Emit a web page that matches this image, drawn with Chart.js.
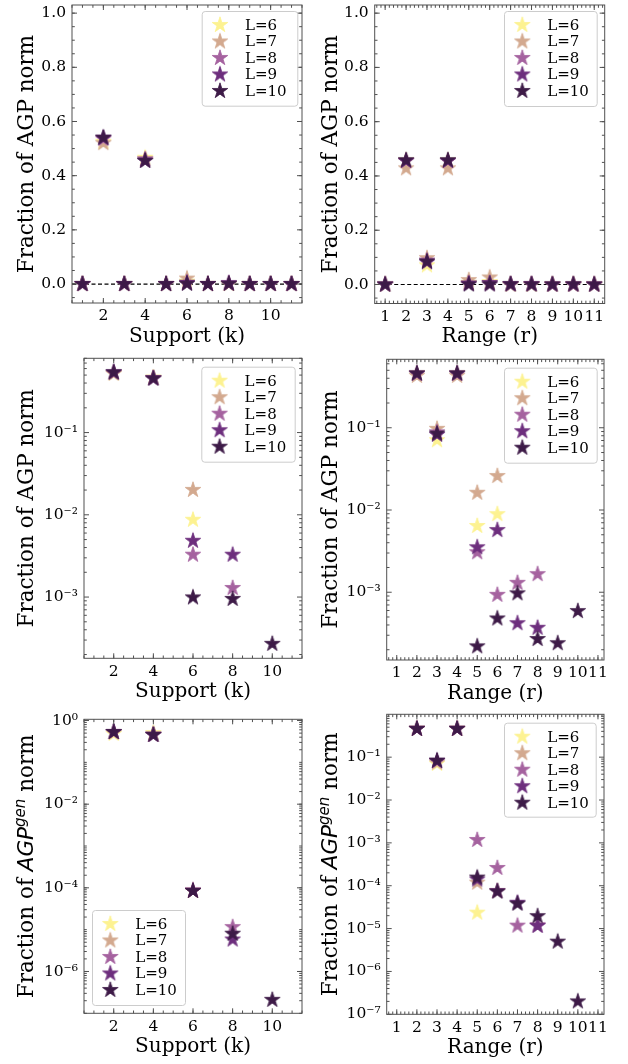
<!DOCTYPE html>
<html>
<head>
<meta charset="utf-8">
<script src="https://cdn.jsdelivr.net/npm/chart.js@4.4.1/dist/chart.umd.min.js"></script>
<style>
  html, body { margin: 0; padding: 0; background: #fff; }
  #wrap { position: relative; width: 628px; height: 1064px; overflow: hidden; }
  #wrap canvas { position: absolute; }
</style>
</head>
<body>
<div id="wrap"></div>
<script>
// Fracción de la norma AGP (y AGP^gen) por soporte k y por rango r, para L=6..10.
// Valores leídos a ojo de la figura; los ceros se omiten en los paneles logarítmicos.

const L_LABELS = ['L=6', 'L=7', 'L=8', 'L=9', 'L=10'];
const L_COLORS = ['#fdf291', '#d3a98f', '#a5629f', '#6d2e7d', '#3d1a47'];

const SUPPORT_K = [1, 2, 3, 4, 5, 6, 7, 8, 9, 10, 11];
const RANGE_R   = [1, 2, 3, 4, 5, 6, 7, 8, 9, 10, 11];

// AGP norm vs support k
const agpSupL6  = [0, 0.525, 0, 0.466, 0, 0.0087, 0, 0, 0, 0, 0];
const agpSupL7  = [0, 0.520, 0, 0.460, 0, 0.0201, 0, 0, 0, 0, 0];
const agpSupL8  = [0, 0.535, 0, 0.460, 0, 0.00327, 0, 0.00129, 0, 0, 0];
const agpSupL9  = [0, 0.540, 0, 0.455, 0, 0.00483, 0, 0.00327, 0, 0, 0];
const agpSupL10 = [0, 0.540, 0, 0.455, 0, 0.00099, 0, 0.00095, 0, 0.00027, 0];

// AGP norm vs range r
const agpRanL6  = [0, 0.457, 0.0706, 0.457, 0.0064, 0.0089, 0, 0, 0, 0, 0];
const agpRanL7  = [0, 0.428, 0.097, 0.428, 0.0162, 0.0259, 0, 0, 0, 0, 0];
const agpRanL8  = [0, 0.455, 0.088, 0.455, 0.00306, 0.00093, 0.0013, 0.00166, 0, 0, 0];
const agpRanL9  = [0, 0.456, 0.082, 0.456, 0.00352, 0.0057, 0.00042, 0.00037, 0, 0, 0];
const agpRanL10 = [0, 0.458, 0.085, 0.458, 0.00022, 0.00048, 0.00097, 0.00027, 0.00024, 0.00059, 0];

// AGP^gen norm vs support k
const genSupL6  = [0, 0.48, 0, 0.50, 0, 8.5e-5, 0, 0, 0, 0, 0];
const genSupL7  = [0, 0.52, 0, 0.46, 0, 8.5e-5, 0, 0, 0, 0, 0];
const genSupL8  = [0, 0.53, 0, 0.46, 0, 8.6e-5, 0, 1.15e-5, 0, 0, 0];
const genSupL9  = [0, 0.53, 0, 0.455, 0, 8.6e-5, 0, 5.8e-6, 0, 0, 0];
const genSupL10 = [0, 0.53, 0, 0.455, 0, 8.4e-5, 0, 8.0e-6, 0, 2.1e-7, 0];

// AGP^gen norm vs range r
const genRanL6  = [0, 0.46, 0.070, 0.46, 2.35e-5, 0, 0, 0, 0, 0, 0];
const genRanL7  = [0, 0.46, 0.075, 0.46, 1.18e-4, 7.5e-5, 0, 0, 0, 0, 0];
const genRanL8  = [0, 0.46, 0.080, 0.46, 1.17e-3, 2.6e-4, 1.17e-5, 1.2e-5, 0, 0, 0];
const genRanL9  = [0, 0.46, 0.082, 0.46, 1.4e-4, 7.5e-5, 4.0e-5, 1.15e-5, 0, 0, 0];
const genRanL10 = [0, 0.458, 0.083, 0.458, 1.55e-4, 7.3e-5, 3.8e-5, 1.95e-5, 4.95e-6, 2.0e-7, 0];

const ZERO_LEVEL = 0; // línea discontinua horizontal en los paneles lineales

const X_TICKS_SUPPORT = [2, 4, 6, 8, 10];
const X_TICKS_RANGE   = [1, 2, 3, 4, 5, 6, 7, 8, 9, 10, 11];
const Y_TICKS_LIN     = [0, 0.2, 0.4, 0.6, 0.8, 1.0];
const Y_TICKS_LOG_MID = [1e-3, 1e-2, 1e-1];
const Y_TICKS_LOG_GS  = [1e-6, 1e-4, 1e-2, 1e0];
const Y_TICKS_LOG_GR  = [1e-7, 1e-6, 1e-5, 1e-4, 1e-3, 1e-2, 1e-1];

const SERIF = "'DejaVu Serif', serif";
const YT_FONT = "21.5px 'DejaVu Serif', serif";
const MATH_IT = "italic 21.5px 'DejaVu Sans', sans-serif";
const MATH_IT_SUP = "italic 15px 'DejaVu Sans', sans-serif";
const SPINE = '#505050';

Chart.defaults.font.family = SERIF;
Chart.defaults.color = '#000';

function makeStar(color, R){
  const pad = 1.5;
  const size = Math.ceil(2*R + 2*pad);
  const c = document.createElement('canvas');
  c.width = size; c.height = size;
  const g = c.getContext('2d');
  const cx = size/2, cy = size/2;
  g.beginPath();
  for(let i=0;i<10;i++){
    const r = i%2===0 ? R : R*0.382;
    const a = -Math.PI/2 + i*Math.PI/5;
    const px = cx + r*Math.cos(a), py = cy + r*Math.sin(a);
    if(i===0) g.moveTo(px,py); else g.lineTo(px,py);
  }
  g.closePath();
  g.fillStyle = color; g.fill();
  g.lineWidth = 0.8; g.strokeStyle = color; g.stroke();
  return c;
}
const STARS = L_COLORS.map(c => makeStar(c, 8.2));

const SUP = {'-':'\u207B','0':'\u2070','1':'\u00B9','2':'\u00B2','3':'\u00B3','4':'\u2074','5':'\u2075','6':'\u2076','7':'\u2077','8':'\u2078','9':'\u2079'};
function fmtPow(v){
  const e = Math.round(Math.log10(v));
  return '10' + String(e).split('').map(ch => SUP[ch]).join('');
}

function linMinors(from, to, step){
  const out=[];
  for(let v=from; v<=to+1e-9; v+=step) out.push(+v.toFixed(6));
  return out;
}
function logMinors(min, max, withDecades){
  const out=[];
  for(let e=Math.floor(Math.log10(min)); e<=Math.ceil(Math.log10(max)); e++){
    const subs = withDecades ? [1,2,3,4,5,6,7,8,9] : [2,3,4,5,6,7,8,9];
    subs.forEach(m => { const v = m*Math.pow(10,e); if(v>=min && v<=max) out.push(v); });
  }
  return out;
}

const PANELS = [
  {pos:{left:0, top:0, w:314, h:350}, area:{l:72, t:4, r:302, b:303},
   x:SUPPORT_K, series:[agpSupL6,agpSupL7,agpSupL8,agpSupL9,agpSupL10], log:false,
   xMin:0.5, xMax:11.5, yMin:-0.07, yMax:1.03, xTicks:X_TICKS_SUPPORT, yTicks:Y_TICKS_LIN,
   xMinor:linMinors(0.5,11.5,0.5), yMinor:linMinors(-0.05,1.0,0.05),
   xTitle:'Support (k)', gen:false, titleX:33, legend:{x:201.7, y:11, w:95.6, h:94.7}},
  {pos:{left:314, top:0, w:314, h:350}, area:{l:60.7, t:4, r:290.7, b:303.5},
   x:RANGE_R, series:[agpRanL6,agpRanL7,agpRanL8,agpRanL9,agpRanL10], log:false,
   xMin:0.5, xMax:11.5, yMin:-0.07, yMax:1.03, xTicks:X_TICKS_RANGE, yTicks:Y_TICKS_LIN,
   xMinor:linMinors(0.6,11.4,0.2), yMinor:linMinors(-0.05,1.0,0.05),
   xTitle:'Range (r)', gen:false, titleX:23, legend:{x:190, y:11, w:92.7, h:95}},
  {pos:{left:0, top:340, w:314, h:370}, area:{l:84, t:18.3, r:302, b:318.3},
   x:SUPPORT_K, series:[agpSupL6,agpSupL7,agpSupL8,agpSupL9,agpSupL10], log:true,
   xMin:0.5, xMax:11.5, yMin:1.8e-4, yMax:0.80, xTicks:X_TICKS_SUPPORT, yTicks:Y_TICKS_LOG_MID,
   xMinor:linMinors(0.5,11.5,0.5), yMinor:logMinors(1.8e-4,0.80,false),
   xTitle:'Support (k)', gen:false, titleX:33, legend:{x:201.3, y:26.7, w:93.4, h:95}},
  {pos:{left:314, top:340, w:314, h:370}, area:{l:72.7, t:19.3, r:290, b:320},
   x:RANGE_R, series:[agpRanL6,agpRanL7,agpRanL8,agpRanL9,agpRanL10], log:true,
   xMin:0.5, xMax:11.3, yMin:1.5e-4, yMax:0.68, xTicks:X_TICKS_RANGE, yTicks:Y_TICKS_LOG_MID,
   xMinor:linMinors(0.6,11.2,0.2), yMinor:logMinors(1.5e-4,0.68,false),
   xTitle:'Range (r)', gen:false, titleX:23, legend:{x:190, y:27.7, w:92.7, h:95}},
  {pos:{left:0, top:700, w:314, h:364}, area:{l:84, t:19.3, r:302, b:313.3},
   x:SUPPORT_K, series:[genSupL6,genSupL7,genSupL8,genSupL9,genSupL10], log:true,
   xMin:0.5, xMax:11.5, yMin:1e-7, yMax:1.07, xTicks:X_TICKS_SUPPORT, yTicks:Y_TICKS_LOG_GS,
   xMinor:linMinors(0.5,11.5,0.5), yMinor:logMinors(1e-7,1.07,true),
   xTitle:'Support (k)', gen:true, titleX:33, legend:{x:92, y:210, w:93, h:95}},
  {pos:{left:314, top:700, w:314, h:364}, area:{l:72.7, t:14.3, r:290, b:314.3},
   x:RANGE_R, series:[genRanL6,genRanL7,genRanL8,genRanL9,genRanL10], log:true,
   xMin:0.5, xMax:11.3, yMin:1e-7, yMax:1.0, xTicks:X_TICKS_RANGE, yTicks:Y_TICKS_LOG_GR,
   xMinor:linMinors(0.6,11.2,0.2), yMinor:logMinors(1e-7,1.0,false),
   xTitle:'Range (r)', gen:true, titleX:23, legend:{x:190, y:22.7, w:91.7, h:94}},
];

// marco + ticks hacia adentro en los cuatro lados
const framePlugin = {
  id:'frame',
  afterDatasetsDraw(chart){
    const p = chart.options.plugins.frame.panel;
    const {left,right,top,bottom} = chart.chartArea;
    const ctx = chart.ctx, xs = chart.scales.x, ys = chart.scales.y;
    ctx.save();
    ctx.strokeStyle = SPINE; ctx.lineWidth = 1;
    ctx.strokeRect(left, top, right-left, bottom-top);
    const tick = (vals, len, isX) => {
      vals.forEach(v => {
        if(isX){
          const px = xs.getPixelForValue(v);
          if(px < left-0.5 || px > right+0.5) return;
          ctx.beginPath(); ctx.moveTo(px,bottom); ctx.lineTo(px,bottom-len);
          ctx.moveTo(px,top); ctx.lineTo(px,top+len); ctx.stroke();
        } else {
          const py = ys.getPixelForValue(v);
          if(py < top-0.5 || py > bottom+0.5) return;
          ctx.beginPath(); ctx.moveTo(left,py); ctx.lineTo(left+len,py);
          ctx.moveTo(right,py); ctx.lineTo(right-len,py); ctx.stroke();
        }
      });
    };
    tick(p.xMinor, 2.8, true); tick(p.yMinor, 2.8, false);
    tick(p.xTicks, 5, true); tick(p.yTicks, 5, false);
    ctx.restore();
  },
  afterDraw(chart){
    const p = chart.options.plugins.frame.panel;
    const ca = chart.chartArea, ctx = chart.ctx;
    ctx.save();
    ctx.fillStyle = '#000';
    // título eje x
    ctx.font = '20px ' + SERIF; ctx.textAlign = 'center'; ctx.textBaseline = 'alphabetic';
    ctx.fillText(p.xTitle, (ca.left+ca.right)/2, ca.bottom + 38.5);
    // título eje y (rotado)
    const segs = p.gen
      ? [{t:'Fraction of ', f:YT_FONT, dy:0}, {t:'AGP', f:MATH_IT, dy:0},
         {t:'gen', f:MATH_IT_SUP, dy:-8.5}, {t:' norm', f:YT_FONT, dy:0}]
      : [{t:'Fraction of AGP norm', f:YT_FONT, dy:0}];
    let total = 0;
    segs.forEach(s => { ctx.font = s.f; s.w = ctx.measureText(s.t).width; total += s.w; });
    ctx.translate(p.titleX, (ca.top+ca.bottom)/2);
    ctx.rotate(-Math.PI/2);
    ctx.textAlign = 'left';
    let cx = -total/2;
    segs.forEach(s => { ctx.font = s.f; ctx.fillText(s.t, cx, s.dy); cx += s.w; });
    ctx.restore();
    // leyenda
    const b = p.legend;
    ctx.save();
    ctx.beginPath();
    ctx.roundRect(b.x+0.5, b.y+0.5, b.w, b.h, 3);
    ctx.fillStyle = 'rgba(255,255,255,0.8)'; ctx.fill();
    ctx.strokeStyle = '#cccccc'; ctx.lineWidth = 1; ctx.stroke();
    ctx.font = '15px ' + SERIF; ctx.fillStyle = '#000';
    ctx.textAlign = 'left'; ctx.textBaseline = 'middle';
    chart.data.datasets.filter(d => d.isL).forEach((d,i) => {
      const y = b.y + 14 + i*16.5;
      const st = d.pointStyle;
      ctx.drawImage(st, b.x + 18.3 - st.width/2, y - st.height/2);
      ctx.fillText(d.label, b.x + 43.3, y + 1);
    });
    ctx.restore();
  }
};

const wrap = document.getElementById('wrap');
PANELS.forEach(p => {
  const cv = document.createElement('canvas');
  cv.width = p.pos.w; cv.height = p.pos.h;
  cv.style.left = p.pos.left + 'px'; cv.style.top = p.pos.top + 'px';
  cv.style.width = p.pos.w + 'px'; cv.style.height = p.pos.h + 'px';
  wrap.appendChild(cv);

  const datasets = p.series.map((ys,i) => ({
    isL:true,
    label:L_LABELS[i],
    data:p.x.map((x,j) => ({x, y: p.log ? (ys[j] > 0 ? ys[j] : null) : ys[j]})),
    pointStyle:STARS[i], backgroundColor:L_COLORS[i], borderColor:L_COLORS[i],
    order:10 - i, // L=10 encima
  }));
  if(!p.log){
    datasets.push({type:'line', label:'zero', data:[{x:p.xMin, y:ZERO_LEVEL},{x:p.xMax, y:ZERO_LEVEL}],
      showLine:true, borderColor:'#000', borderWidth:1.2, borderDash:[4,2.5], pointRadius:0, order:20});
  }

  new Chart(cv.getContext('2d'), {
    type:'scatter',
    data:{datasets},
    options:{
      responsive:false, animation:false, events:[],
      layout:{padding:{left:0, top:p.area.t, right:p.pos.w - p.area.r, bottom:0}},
      plugins:{legend:{display:false}, tooltip:{enabled:false}, frame:{panel:p}},
      scales:{
        x:{type:'linear', min:p.xMin, max:p.xMax,
           grid:{display:false, drawTicks:false}, border:{display:false},
           ticks:{font:{size:15.5}, padding:4, maxRotation:0, autoSkip:false, color:'#000'},
           afterBuildTicks:s => { s.ticks = p.xTicks.map(v => ({value:v})); },
           afterFit:s => { s.height = p.pos.h - p.area.b; s.paddingLeft = 0; s.paddingRight = 0; }},
        y:{type:p.log ? 'logarithmic' : 'linear', min:p.yMin, max:p.yMax,
           grid:{display:false, drawTicks:false}, border:{display:false},
           ticks:{font:{size:15.5}, padding:6, autoSkip:false, color:'#000',
                  callback:v => p.log ? fmtPow(v) : Number(v).toFixed(1)},
           afterBuildTicks:s => { s.ticks = p.yTicks.map(v => ({value:v})); },
           afterFit:s => { s.width = p.area.l; s.paddingTop = 0; s.paddingBottom = 0; }}
      }
    },
    plugins:[framePlugin]
  });
});
</script>
</body>
</html>
